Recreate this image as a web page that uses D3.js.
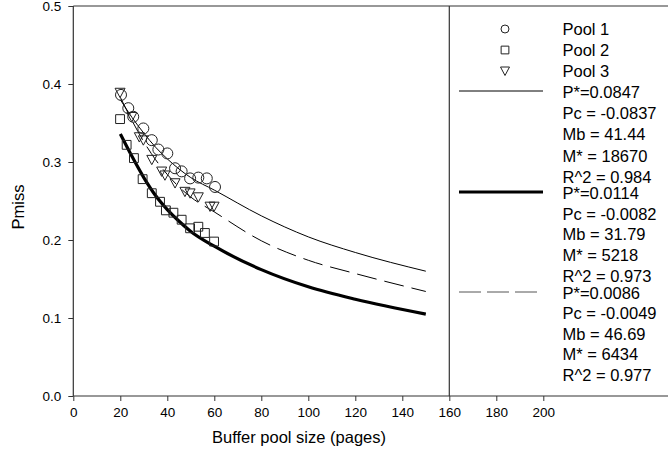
<!doctype html>
<html>
<head>
<meta charset="utf-8">
<script src="https://cdn.jsdelivr.net/npm/d3@7"></script>
<style>
  body { margin: 0; background: #fff; }
  text { font-family: "Liberation Sans", Arial, sans-serif; fill: #000; }
  .tick text { font-size: 13.5px; }
  .tick line, .axis path { stroke: #333; }
</style>
</head>
<body>
<svg id="chart" width="668" height="453"></svg>
<script>
// measured points (pages, miss ratio)
var pool1X = [20.3, 23.4, 25.5, 29.8, 33.4, 36.2, 40, 43.3, 46.1, 49.7, 53.2, 56.8, 60.3];
var pool1Y = [0.386, 0.369, 0.358, 0.343, 0.328, 0.316, 0.311, 0.292, 0.288, 0.279, 0.280, 0.279, 0.268];
var pool2X = [19.9, 22.7, 25.8, 29.5, 33.4, 36.9, 39.4, 42.6, 46.1, 49.7, 53.2, 56, 59.9];
var pool2Y = [0.355, 0.322, 0.305, 0.278, 0.260, 0.249, 0.238, 0.235, 0.226, 0.215, 0.217, 0.209, 0.198];
var pool3X = [19.9, 24.9, 28.1, 29.8, 33.4, 37.6, 39, 43.3, 47.5, 49.7, 53.2, 58.2, 59.9];
var pool3Y = [0.389, 0.358, 0.332, 0.328, 0.303, 0.288, 0.283, 0.273, 0.262, 0.260, 0.255, 0.243, 0.243];

// fitted curves
var fitX = [20, 25, 30, 35, 40, 45, 50, 60, 80, 100, 120, 150];
var fit1Y = [0.380, 0.357, 0.337, 0.319, 0.304, 0.291, 0.280, 0.264, 0.231, 0.204, 0.184, 0.160];
var fit2Y = [0.336, 0.307, 0.280, 0.257, 0.239, 0.224, 0.211, 0.192, 0.162, 0.140, 0.124, 0.105];
var fit3Y = [0.383, 0.353, 0.326, 0.303, 0.284, 0.268, 0.255, 0.236, 0.199, 0.174, 0.157, 0.134];

var xTicks = [0, 20, 40, 60, 80, 100, 120, 140, 160, 180, 200];
var yTicks = [0.0, 0.1, 0.2, 0.3, 0.4, 0.5];

var poolNames = ["Pool 1", "Pool 2", "Pool 3"];
var fit1Text = ["P*=0.0847", "Pc = -0.0837", "Mb = 41.44", "M* = 18670", "R^2 = 0.984"];
var fit2Text = ["P*=0.0114", "Pc = -0.0082", "Mb = 31.79", "M* = 5218", "R^2 = 0.973"];
var fit3Text = ["P*=0.0086", "Pc = -0.0049", "Mb = 46.69", "M* = 6434", "R^2 = 0.977"];

var svg = d3.select("#chart"),
    W = 668, padL = 73.3, padT = 6, padB = 396;

var x = d3.scaleLinear().domain([0, 200]).range([padL, 543.3]);
var y = d3.scaleLinear().domain([0, 0.5]).range([padB, padT]);

// axes
var xa = svg.append("g").attr("class", "axis").attr("transform", "translate(0," + padB + ")")
  .call(d3.axisBottom(x).tickValues(xTicks).tickFormat(d3.format("d")).tickSize(5).tickPadding(6));
xa.select(".domain").remove();
var ya = svg.append("g").attr("class", "axis").attr("transform", "translate(" + padL + ",0)")
  .call(d3.axisLeft(y).tickValues(yTicks).tickFormat(d3.format(".1f")).tickSize(5).tickPadding(7));
ya.select(".domain").remove();

// frame
function frameLine(x1, y1, x2, y2) {
  svg.append("line").attr("x1", x1).attr("x2", x2).attr("y1", y1).attr("y2", y2)
    .attr("stroke", "#333").attr("stroke-width", 1.2);
}
frameLine(padL, padB, W, padB);
frameLine(padL, padT, W, padT);
frameLine(padL, padT, padL, padB);
frameLine(x(160), padT, x(160), padB);

svg.append("text").attr("x", 299).attr("y", 443).attr("text-anchor", "middle")
  .style("font-size", "16.5px").text("Buffer pool size (pages)");
svg.append("text").attr("transform", "translate(24,207) rotate(-90)").attr("text-anchor", "middle")
  .style("font-size", "16.5px").text("Pmiss");

// fitted lines
var line = d3.line().x(function(d) { return x(d[0]); }).y(function(d) { return y(d[1]); }).curve(d3.curveMonotoneX);
var fits = [
  { ys: fit1Y, w: 1, dash: null },
  { ys: fit2Y, w: 3.2, dash: null },
  { ys: fit3Y, w: 1, dash: "20,8" }
];
fits.forEach(function(f) {
  svg.append("path").datum(d3.zip(fitX, f.ys)).attr("d", line)
    .attr("fill", "none").attr("stroke", "#000").attr("stroke-width", f.w)
    .attr("stroke-dasharray", f.dash);
});

// symbols
var symCircle = d3.symbol().type(d3.symbolCircle).size(95);
var symSquare = d3.symbol().type(d3.symbolSquare).size(78);
var triPath = "M-5,-4.3L5,-4.3L0,5Z";

function drawPts(xs, ys, shape) {
  svg.append("g").selectAll("path").data(d3.zip(xs, ys)).enter().append("path")
    .attr("transform", function(d) { return "translate(" + x(d[0]) + "," + y(d[1]) + ")"; })
    .attr("d", shape).attr("fill", "none").attr("stroke", "#222").attr("stroke-width", 1);
}
drawPts(pool1X, pool1Y, symCircle());
drawPts(pool2X, pool2Y, symSquare());
drawPts(pool3X, pool3Y, triPath);

// legend
var lg = svg.append("g");
var legSymX = 505, legTextX = 562.5;
var legShapes = [d3.symbol().type(d3.symbolCircle).size(50)(), d3.symbol().type(d3.symbolSquare).size(60)(), "M-4.5,-4L4.5,-4L0,4.5Z"];
var rowsY = [29, 50, 71];
poolNames.forEach(function(n, i) {
  lg.append("path").attr("transform", "translate(" + legSymX + "," + rowsY[i] + ")")
    .attr("d", legShapes[i]).attr("fill", "none").attr("stroke", "#222");
  lg.append("text").attr("x", legTextX).attr("y", rowsY[i]).attr("dy", "0.35em")
    .style("font-size", "16.5px").text(n);
});
var blocks = [
  { t: fit1Text, y0: 92, step: 21.25, w: 1, dash: null, col: "#000" },
  { t: fit2Text, y0: 193, step: 20.75, w: 3.2, dash: null, col: "#000" },
  { t: fit3Text, y0: 293, step: 20.5, w: 1, dash: "22,6", col: "#555" }
];
blocks.forEach(function(b) {
  lg.append("line").attr("x1", 459).attr("x2", 543).attr("y1", b.y0 - 1).attr("y2", b.y0 - 1)
    .attr("stroke", b.col).attr("stroke-width", b.w).attr("stroke-dasharray", b.dash);
  b.t.forEach(function(s, i) {
    lg.append("text").attr("x", legTextX).attr("y", b.y0 + i * b.step).attr("dy", "0.35em")
      .style("font-size", "16.5px").text(s);
  });
});
</script>
</body>
</html>
